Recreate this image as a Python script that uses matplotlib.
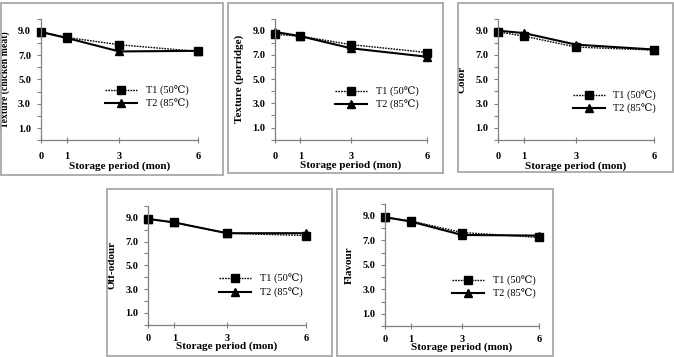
import matplotlib
matplotlib.use("Agg")
import matplotlib.pyplot as plt
from matplotlib.patches import Rectangle

months = [0, 1, 3, 6]
ylabels = ["Texture (chicken meat)", "Texture (porridge)", "Color", "Off-odour", "Flavour"]
t1_texture_meat = [8.9, 8.45, 7.85, 7.3]
t2_texture_meat = [8.9, 8.4, 7.3, 7.35]
t1_texture_porridge = [8.7, 8.55, 7.85, 7.2]
t2_texture_porridge = [8.9, 8.55, 7.55, 6.85]
t1_color = [8.9, 8.55, 7.65, 7.4]
t2_color = [9.0, 8.8, 7.85, 7.45]
t1_offodour = [8.9, 8.6, 7.7, 7.5]
t2_offodour = [8.9, 8.6, 7.7, 7.7]
t1_flavour = [8.9, 8.6, 7.65, 7.25]
t2_flavour = [8.9, 8.55, 7.45, 7.4]
legend_labels = ["T1 (50\u2103)", "T2 (85\u2103)"]
ytick_vals = [1, 3, 5, 7, 9]
ytick_text = ["1.0", "3.0", "5.0", "7.0", "9.0"]
xlabel = "Storage period (mon)"

W, H = 674, 357
fig = plt.figure(figsize=(W / 100, H / 100), dpi=100)
serif = ["Liberation Serif", "DejaVu Serif"]

# pixel layouts: (axes x0, x1, y_top(10), y_bottom(0)), frame (x0, y0, x1, y1), legend anchor,
# ylabel size, xtick pad, xlabel pad
layouts = [
    ((40.7, 197.7, 18.5, 140.5), (1, 3, 223, 175), (0.41, 0.353), 7.0, 6, 0),
    ((275, 427, 18.6, 139.7), (228, 3, 443, 173), (0.395, 0.34), 8.0, 6, 0),
    ((498, 654, 18.5, 140.1), (458, 3, 673, 172), (0.479, 0.309), 8.0, 6, 0),
    ((148, 306, 205.8, 324.9), (107, 189, 332, 356), (0.449, 0.327), 8.0, 4, -1),
    ((385, 539, 203.75, 326.2), (337, 189, 553, 356), (0.435, 0.316), 8.0, 3.5, -0.5),
]
series = [
    (t1_texture_meat, t2_texture_meat),
    (t1_texture_porridge, t2_texture_porridge),
    (t1_color, t2_color),
    (t1_offodour, t2_offodour),
    (t1_flavour, t2_flavour),
]

for (ax_px, fr_px, leg, ylsize, xpad, xlpad), (s1, s2), yl in zip(layouts, series, ylabels):
    fx0, fy0, fx1, fy1 = fr_px
    fig.patches.append(Rectangle((fx0 / W, 1 - fy1 / H), (fx1 - fx0) / W, (fy1 - fy0) / H,
                                 transform=fig.transFigure, fill=False,
                                 edgecolor="#a8a8a8", linewidth=1.3))
    x0, x1, yt, yb = ax_px
    ax = fig.add_axes([x0 / W, 1 - yb / H, (x1 - x0) / W, (yb - yt) / H])
    ax.plot(months, s1, linestyle=(0, (1.2, 0.8)), color="black", linewidth=1.0,
            marker="s", markersize=5.5, label=legend_labels[0], clip_on=False)
    ax.plot(months, s2, linestyle="-", color="black", linewidth=1.5,
            marker="^", markersize=6, label=legend_labels[1], clip_on=False)
    ax.set_xlim(0, 6)
    ax.set_ylim(0, 10)
    ax.set_xticks(months)
    ax.set_xticklabels([str(m) for m in months], fontfamily=serif, fontweight="bold", fontsize=7.5)
    ax.set_yticks(ytick_vals)
    ax.set_yticklabels(ytick_text, fontfamily=serif, fontweight="bold", fontsize=7.5)
    ax.set_yticks([0, 2, 4, 6, 8, 10], minor=True)
    ax.tick_params(axis="y", which="both", direction="out", length=3, width=0.8,
                   color="#808080", pad=4)
    ax.tick_params(axis="x", which="major", direction="inout", length=5, width=0.8,
                   color="#808080", pad=xpad)
    for side in ("top", "right"):
        ax.spines[side].set_visible(False)
    for side in ("left", "bottom"):
        ax.spines[side].set_color("#808080")
        ax.spines[side].set_linewidth(0.9)
    ax.set_xlabel(xlabel, fontfamily=serif, fontweight="bold", fontsize=8, labelpad=xlpad)
    ax.set_ylabel(yl, fontfamily=serif, fontweight="bold", fontsize=ylsize, labelpad=6)
    ax.legend(loc="center left", bbox_to_anchor=leg, frameon=False,
              prop={"family": serif, "size": 7.5}, handlelength=3.1,
              handletextpad=0.8, labelspacing=0.3, borderpad=0, borderaxespad=0)

fig.savefig("out.png", dpi=100)
